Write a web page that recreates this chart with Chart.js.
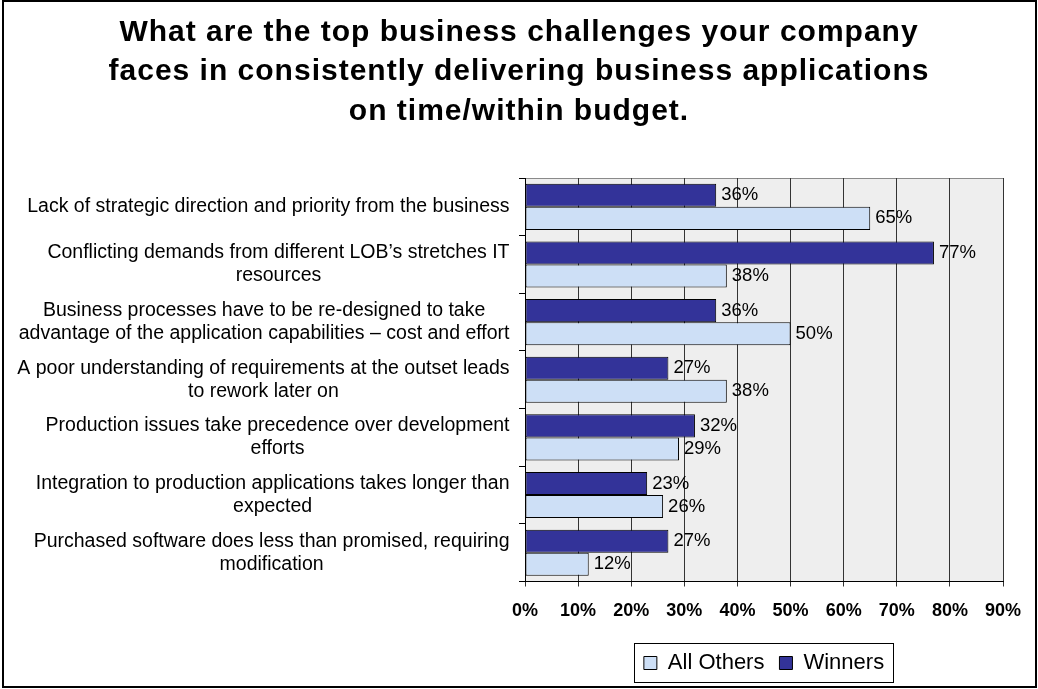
<!DOCTYPE html>
<html>
<head>
<meta charset="utf-8">
<title>Business challenges</title>
<script src="https://cdn.jsdelivr.net/npm/chart.js@4.4.1/dist/chart.umd.min.js"></script>
<style>
  html, body { margin: 0; padding: 0; background: #fff; }
  #wrap { width: 1038px; height: 689px; position: relative; }
</style>
</head>
<body>
<div id="wrap"><canvas id="challengeChart"></canvas></div>
<script>
const titleLines = [
    'What are the top business challenges your company',
    'faces in consistently delivering business applications',
    'on time/within budget.'
];

// each category is a list of wrapped lines
const categories = [
    ['Lack of strategic direction and priority from the business'],
    ['Conflicting demands from different LOB’s stretches IT', 'resources'],
    ['Business processes have to be re-designed to take', 'advantage of the application capabilities – cost and effort'],
    ['A poor understanding of requirements at the outset leads', 'to rework later on'],
    ['Production issues take precedence over development', 'efforts'],
    ['Integration to production applications takes longer than', 'expected'],
    ['Purchased software does less than promised, requiring', 'modification']
];

const winners = [36, 77, 36, 27, 32, 23, 27];
const allOthers = [65, 38, 50, 38, 29, 26, 12];

const axisMin = 0;
const axisMax = 90;
const axisStep = 10;

const FONT = '"Liberation Sans", Arial, Helvetica, sans-serif';
Chart.defaults.font.family = FONT;
Chart.defaults.color = '#000';

// grey plot background with a thin frame
const plotFrame = {
    id: 'plotFrame',
    beforeDraw(chart) {
        const {ctx, chartArea: a} = chart;
        ctx.save();
        ctx.fillStyle = '#eeeeee';
        ctx.fillRect(a.left, a.top, a.right - a.left, a.bottom - a.top);
        ctx.strokeStyle = '#8a8a8a';
        ctx.lineWidth = 1;
        ctx.strokeRect(Math.round(a.left) + 0.5, Math.round(a.top) + 0.5,
            Math.round(a.right - a.left), Math.round(a.bottom - a.top));
        ctx.restore();
    }
};

// title letters are spread a little wider than the plain font
const spacedTitle = {
    id: 'spacedTitle',
    beforeDraw(chart) {
        const t = chart.titleBlock;
        if (t && !t._spaced) {
            const draw = t.draw;
            t.draw = function() {
                this.ctx.save();
                this.ctx.letterSpacing = '1px';
                draw.call(this);
                this.ctx.restore();
            };
            t._spaced = true;
        }
    }
};

// percentage labels at the end of each bar
const valueLabels = {
    id: 'valueLabels',
    afterDatasetsDraw(chart) {
        const ctx = chart.ctx;
        ctx.save();
        ctx.font = '18.5px ' + FONT;
        ctx.fillStyle = '#000';
        ctx.textAlign = 'left';
        ctx.textBaseline = 'middle';
        chart.data.datasets.forEach((ds, i) => {
            chart.getDatasetMeta(i).data.forEach((bar, j) => {
                ctx.fillText(ds.data[j] + '%', bar.x + 5, bar.y);
            });
        });
        ctx.restore();
    }
};

// category labels: block right-aligned to the axis, lines centred in the block
const categoryLabels = {
    id: 'categoryLabels',
    afterDraw(chart) {
        const ctx = chart.ctx;
        const y = chart.scales.y;
        const right = chart.chartArea.left - 15.5;
        const lineH = 23;
        ctx.save();
        ctx.font = '19.5px ' + FONT;
        ctx.fillStyle = '#000';
        ctx.textAlign = 'center';
        ctx.textBaseline = 'middle';
        categories.forEach((lines, i) => {
            const yc = y.getPixelForValue(i);
            const w = Math.max(...lines.map(l => ctx.measureText(l).width));
            const cx = right - w / 2;
            lines.forEach((line, k) => {
                ctx.fillText(line, cx, yc + (k - (lines.length - 1) / 2) * lineH);
            });
        });
        ctx.restore();
    }
};

// frame round the legend and round the whole picture
const frames = {
    id: 'frames',
    afterDraw(chart) {
        const ctx = chart.ctx;
        ctx.save();
        const boxes = chart.legend && chart.legend.legendHitBoxes;
        if (boxes && boxes.length) {
            const left = Math.min(...boxes.map(b => b.left)) - 10;
            const right = Math.max(...boxes.map(b => b.left + b.width)) + 9;
            const top = Math.min(...boxes.map(b => b.top)) - 9;
            const bottom = Math.max(...boxes.map(b => b.top + b.height)) + 8;
            ctx.strokeStyle = '#000';
            ctx.lineWidth = 1;
            ctx.strokeRect(Math.round(left) + 0.5, Math.round(top) + 0.5,
                Math.round(right - left), Math.round(bottom - top));
        }
        ctx.lineWidth = 2;
        ctx.strokeStyle = '#000';
        ctx.strokeRect(3, 1, 1033, 686);
        ctx.restore();
    }
};

const challengeChart = new Chart(document.getElementById('challengeChart'), {
    type: 'bar',
    data: {
        labels: categories,
        datasets: [{
            label: 'Winners',
            data: winners,
            backgroundColor: '#333399',
            borderColor: '#000',
            borderWidth: 1,
            borderSkipped: false,
            categoryPercentage: 0.8,
            barPercentage: 1.0
        }, {
            label: 'All Others',
            data: allOthers,
            backgroundColor: '#cddff6',
            borderColor: '#000',
            borderWidth: 1,
            borderSkipped: false,
            categoryPercentage: 0.8,
            barPercentage: 1.0
        }]
    },
    options: {
        indexAxis: 'y',
        responsive: true,
        maintainAspectRatio: false,
        animation: false,
        events: [],
        layout: {
            padding: {left: 35, right: 35, top: 0, bottom: 5}
        },
        scales: {
            x: {
                min: axisMin,
                max: axisMax,
                ticks: {
                    stepSize: axisStep,
                    padding: 14,
                    font: {size: 18, weight: 'bold'},
                    callback: v => v + '%'
                },
                grid: {
                    color: '#333',
                    lineWidth: 1,
                    tickLength: 5
                },
                border: {color: '#000', width: 1},
                afterFit(scale) {
                    scale.height += 0.9;
                }
            },
            y: {
                ticks: {display: false},
                grid: {
                    drawOnChartArea: false,
                    color: '#000',
                    tickLength: 6
                },
                border: {color: '#000', width: 1},
                afterFit(scale) {
                    scale.width = 490;
                }
            }
        },
        plugins: {
            title: {
                display: true,
                text: titleLines,
                color: '#000',
                font: {size: 30, weight: 'bold', lineHeight: 1.307},
                padding: {top: 13.3, bottom: 47.1}
            },
            legend: {
                position: 'bottom',
                fullSize: false,
                reverse: true,
                labels: {
                    boxWidth: 13,
                    boxHeight: 13,
                    padding: 15,
                    color: '#000',
                    font: {size: 22}
                }
            },
            tooltip: {enabled: false}
        }
    },
    plugins: [plotFrame, spacedTitle, valueLabels, categoryLabels, frames]
});
</script>
</body>
</html>
